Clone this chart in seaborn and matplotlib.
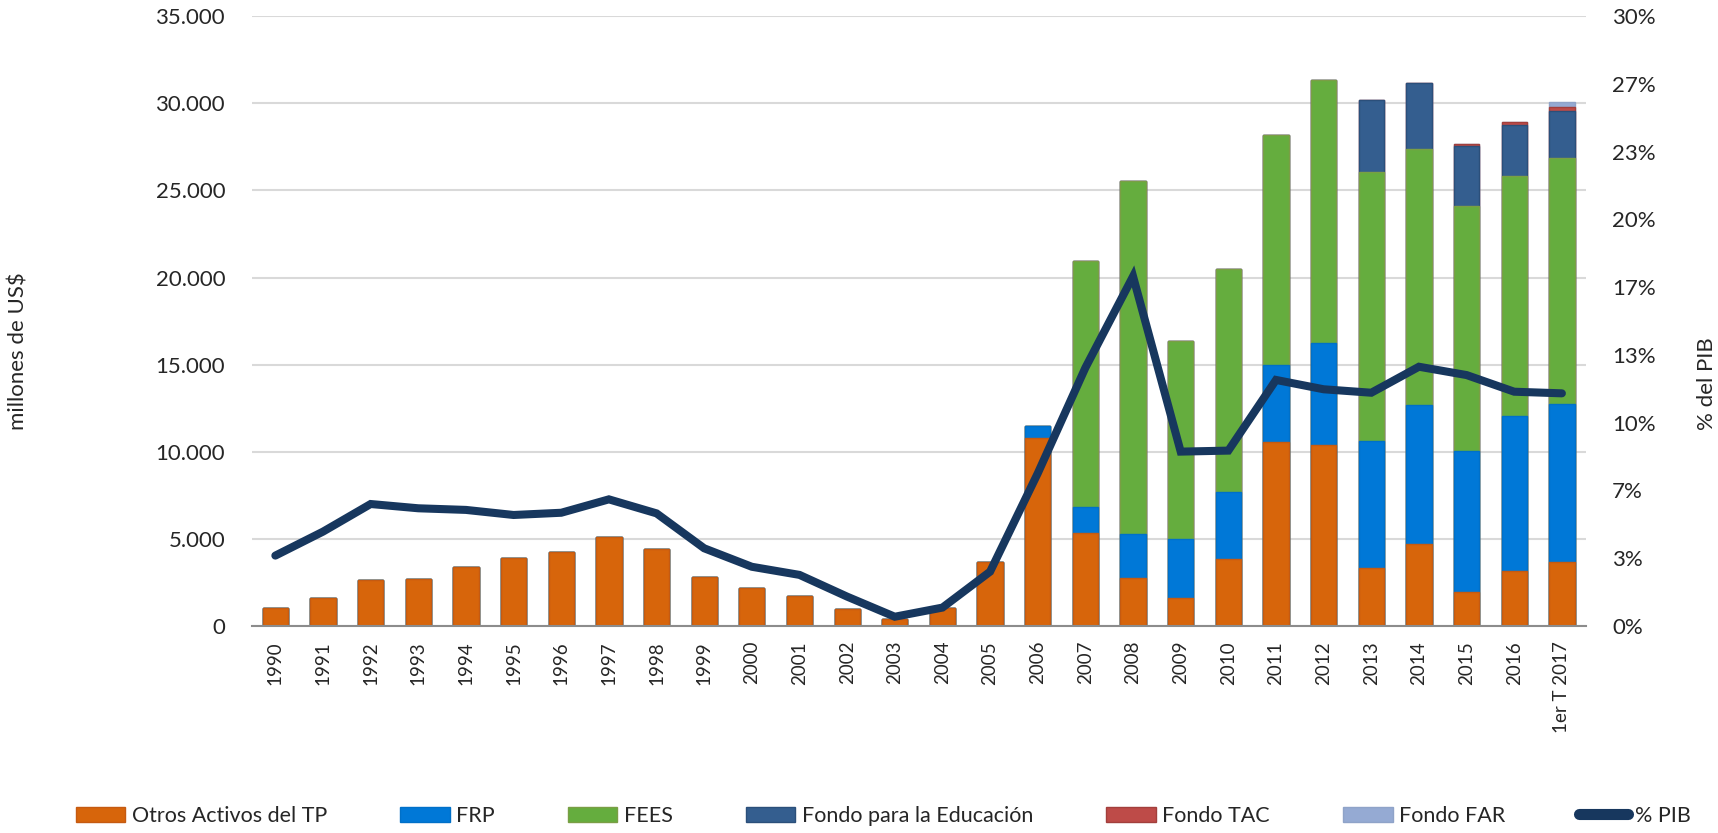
import numpy as np
import pandas as pd
import matplotlib
matplotlib.use("Agg")
import matplotlib.pyplot as plt
from matplotlib.patches import Patch
from matplotlib.lines import Line2D
from matplotlib.ticker import FuncFormatter, FixedLocator
import seaborn as sns

# Datos (millones de US$ y % del PIB)
years = ["1990", "1991", "1992", "1993", "1994", "1995", "1996", "1997", "1998", "1999",
         "2000", "2001", "2002", "2003", "2004", "2005", "2006", "2007", "2008", "2009",
         "2010", "2011", "2012", "2013", "2014", "2015", "2016", "1er T 2017"]
otros = [1020, 1610, 2610, 2670, 3360, 3870, 4220, 5120, 4390, 2820,
         2170, 1710, 940, 390, 1030, 3660, 10800, 5330, 2740, 1590,
         3830, 10540, 10370, 3300, 4710, 1940, 3160, 3660]
frp = [0] * 16 + [690, 1490, 2510, 3410, 3850, 4430, 5890, 7330, 7970, 8120, 8890, 9100]
fees = [0] * 17 + [14140, 20320, 11380, 12800, 13240, 15100, 15460, 14710, 14020, 13810, 14100]
educacion = [0] * 23 + [4080, 3810, 3490, 2910, 2680]
tac = [0] * 25 + [115, 155, 250]
far = [0] * 27 + [300]
pib = [3.45, 4.63, 5.99, 5.78, 5.70, 5.45, 5.56, 6.22, 5.53, 3.81,
       2.90, 2.50, 1.43, 0.44, 0.89, 2.66, 7.5, 12.7, 17.2, 8.57,
       8.62, 12.1, 11.64, 11.47, 12.75, 12.34, 11.52, 11.44]

series = ["Otros Activos del TP", "FRP", "FEES", "Fondo para la Educación", "Fondo TAC", "Fondo FAR"]
colores = ["#D7650B", "#0078D7", "#65AD3E", "#345E8F", "#BE4B48", "#95AAD3"]
bordes = ["#C55A11", "#0070C8", "#7A9E45", "#2B4F7A", "#A23F3C", "#8FA3C8"]
color_linea = "#17375E"

df = pd.DataFrame({"anio": years, series[0]: otros, series[1]: frp, series[2]: fees,
                   series[3]: educacion, series[4]: tac, series[5]: far})
acum = df[series].cumsum(axis=1)

sns.set_style("white")
plt.rcParams['font.family'] = ['Lato', 'DejaVu Sans']

fig = plt.figure(figsize=(17.18, 8.33), dpi=100)
ax = fig.add_axes([0.1464, 0.2489, 0.923 - 0.1464, 0.9803 - 0.2489])

# barras apiladas: se dibujan los acumulados de arriba hacia abajo
for i in range(len(series) - 1, -1, -1):
    sns.barplot(x=df["anio"], y=acum[series[i]], color=colores[i], width=0.53,
                edgecolor=bordes[i], linewidth=1, saturation=1, ax=ax, zorder=2)

ax.set_ylim(0, 35000)
ax.set_xlim(-0.5, len(years) - 0.5)
ax.set_yticks(np.arange(0, 35001, 5000))
ax.yaxis.set_major_formatter(FuncFormatter(lambda v, p: f"{int(v):,}".replace(",", ".")))
ax.grid(axis="y", color="#D9D9D9", lw=1.5, zorder=0)
ax.set_axisbelow(True)
ax.set_xlabel("")
ax.set_ylabel("")
for s in ["left", "right", "top"]:
    ax.spines[s].set_visible(False)
ax.spines["bottom"].set_color("#8C8C8C")
ax.spines["bottom"].set_linewidth(1.5)
ax.tick_params(axis="y", length=0, pad=19, labelsize=16)
ax.tick_params(axis="x", which="major", length=0, pad=11, labelsize=13.5, rotation=90)
ax.xaxis.set_minor_locator(FixedLocator(np.arange(-0.5, len(years), 1)))
ax.tick_params(axis="x", which="minor", length=5, width=1.5, color="#8C8C8C", direction="out")

# % del PIB en el eje secundario
ax2 = ax.twinx()
sns.lineplot(x=np.arange(len(years)), y=pib, color=color_linea, lw=5.8, ax=ax2,
             solid_capstyle="round", solid_joinstyle="miter", zorder=5)
ax2.set_ylim(0, 30)
ax2.set_yticks(np.linspace(0, 30, 10))
ax2.yaxis.set_major_formatter(FuncFormatter(lambda v, p: f"{v:.0f}%"))
ax2.tick_params(axis="y", length=0, pad=19, labelsize=16)
ax2.grid(False)
for s in ["left", "right", "top", "bottom"]:
    ax2.spines[s].set_visible(False)
ax2.set_ylabel("")

fig.text(0.0107, 0.578, "millones de US$", rotation=90, ha="center", va="center", fontsize=16)
fig.text(0.9934, 0.539, "% del PIB", rotation=90, ha="center", va="center", fontsize=16)

handles = [Patch(facecolor=c, edgecolor=b) for c, b in zip(colores, bordes)]
handles.append(Line2D([0], [0], color=color_linea, lw=8, solid_capstyle="round"))
fig.legend(handles, series + ["% PIB"], loc="center", bbox_to_anchor=(0.514, 0.0204),
           ncol=7, frameon=False, fontsize=15.5, handlelength=2.3, handleheight=0.75,
           handletextpad=0.3, columnspacing=3.4)

fig.savefig("out.png", dpi=100)
